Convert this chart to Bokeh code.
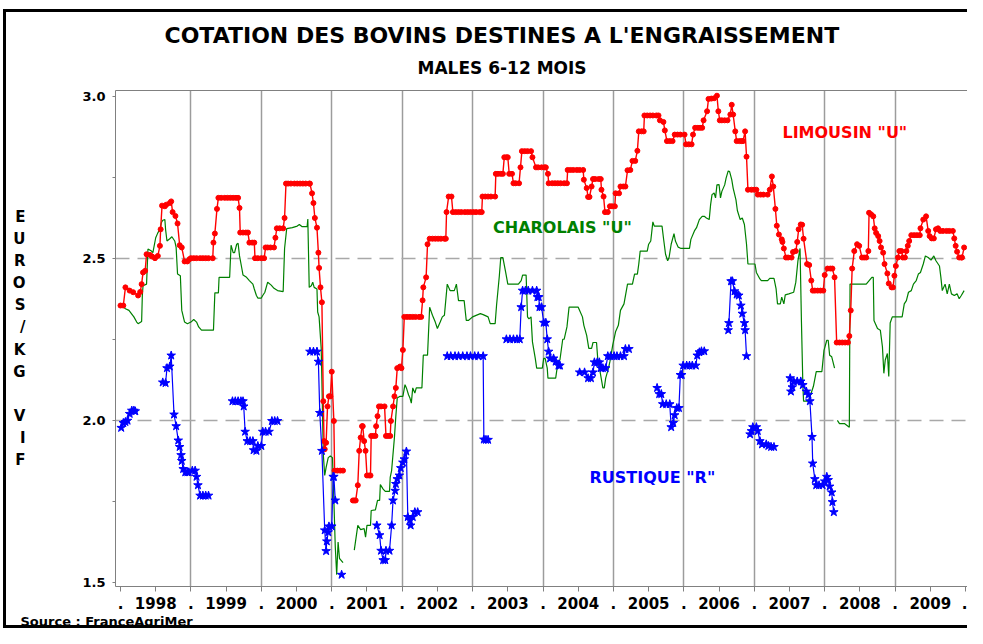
import numpy as np
from bokeh.plotting import figure
from bokeh.models import Range1d, FixedTicker, LinearAxis, Label, Title
from bokeh.embed import file_html
from bokeh.resources import INLINE

nan = float("nan")

TITLE = "COTATION DES BOVINS DESTINES A L'ENGRAISSEMENT"
SUBTITLE = "MALES 6-12 MOIS"
Y_LABEL = "E\nU\nR\nO\nS\n/\nK\nG\n \nV\nI\nF"
SOURCE = "Source :  FranceAgriMer"

X_TICKS = [1998.0, 1998.5, 1999.0, 1999.5, 2000.0, 2000.5, 2001.0, 2001.5, 2002.0, 2002.5,
           2003.0, 2003.5, 2004.0, 2004.5, 2005.0, 2005.5, 2006.0, 2006.5, 2007.0, 2007.5,
           2008.0, 2008.5, 2009.0, 2009.5, 2010.0]
X_TICK_LABELS = [".", "1998", ".", "1999", ".", "2000", ".", "2001", ".", "2002",
                 ".", "2003", ".", "2004", ".", "2005", ".", "2006", ".", "2007",
                 ".", "2008", ".", "2009", "."]
Y_TICKS = [1.5, 1.75, 2.0, 2.25, 2.5, 2.75, 3.0]
Y_TICK_LABELS = ["1.5", "", "2.0", "", "2.5", "", "3.0"]
YEAR_LINES = [1999, 2000, 2001, 2002, 2003, 2004, 2005, 2006, 2007, 2008, 2009]
REF_LINES = [2.0, 2.5]

SERIES_LABELS = ['LIMOUSIN  "U"', 'CHAROLAIS  "U"', 'RUSTIQUE  "R"']

LIMOUSIN = [
(1998.00,2.354),(1998.04,2.354),(1998.07,2.41),(1998.13,2.40),(1998.18,2.395),(1998.25,2.385),(1998.28,2.396),(1998.30,2.42),(1998.32,2.456),(1998.35,2.461),(1998.37,2.512),(1998.42,2.51),(1998.45,2.505),(1998.49,2.50),(1998.53,2.507),(1998.56,2.538),(1998.57,2.589),(1998.59,2.662),(1998.63,2.66),(1998.65,2.665),(1998.70,2.67),(1998.72,2.675),(1998.74,2.642),(1998.78,2.63),(1998.81,2.607),(1998.84,2.54),(1998.87,2.533),(1998.91,2.49),(1998.95,2.49),(1998.98,2.497),
(1999.00,2.50),(1999.04,2.50),(1999.08,2.50),(1999.13,2.50),(1999.17,2.50),(1999.21,2.50),(1999.25,2.50),(1999.31,2.50),(1999.32,2.548),(1999.34,2.576),(1999.37,2.652),(1999.39,2.686),(1999.43,2.686),(1999.48,2.686),(1999.52,2.686),(1999.56,2.686),(1999.60,2.686),(1999.64,2.686),(1999.67,2.686),(1999.69,2.655),(1999.70,2.579),(1999.74,2.579),(1999.78,2.579),(1999.81,2.579),(1999.83,2.548),(1999.87,2.548),(1999.90,2.548),(1999.91,2.50),(1999.95,2.50),
(2000.00,2.50),(2000.04,2.50),(2000.06,2.533),(2000.09,2.533),(2000.13,2.533),(2000.18,2.533),(2000.20,2.563),(2000.22,2.592),(2000.26,2.592),(2000.31,2.592),(2000.33,2.624),(2000.35,2.73),(2000.38,2.73),(2000.42,2.73),(2000.47,2.73),(2000.51,2.73),(2000.55,2.73),(2000.59,2.73),(2000.63,2.73),(2000.68,2.73),(2000.69,2.73),(2000.72,2.70),(2000.74,2.67),(2000.76,2.624),(2000.79,2.594),(2000.81,2.517),(2000.82,2.47),(2000.84,2.41),(2000.86,2.364),(2000.88,2.059),(2000.89,1.936),(2000.90,1.911),(2000.92,1.931),(2000.94,2.043),(2000.96,2.074),(2000.98,2.074),
(2001.00,2.15),(2001.03,1.998),(2001.04,1.845),(2001.08,1.845),(2001.12,1.845),(2001.16,1.845),(nan,nan),
(2001.30,1.753),(2001.32,1.753),(2001.34,1.753),(2001.37,1.80),(2001.39,1.906),(2001.41,1.947),(2001.43,1.982),(2001.44,1.982),(2001.46,1.936),(2001.48,1.906),(2001.50,1.83),(2001.53,1.83),(2001.55,1.83),(2001.56,1.952),(2001.59,1.952),(2001.62,1.952),(2001.63,1.982),(2001.65,2.013),(2001.67,2.043),(2001.70,2.043),(2001.75,2.043),(2001.77,1.952),(2001.80,1.952),(2001.83,1.952),(2001.84,1.998),(2001.87,2.043),(2001.89,2.074),(2001.91,2.10),(2001.93,2.161),(2001.97,2.166),(2001.99,2.161),
(2002.01,2.217),(2002.03,2.319),(2002.07,2.319),(2002.11,2.319),(2002.15,2.319),(2002.19,2.319),(2002.24,2.319),(2002.27,2.319),(2002.29,2.37),(2002.30,2.41),(2002.34,2.441),(2002.36,2.543),(2002.39,2.56),(2002.43,2.56),(2002.47,2.56),(2002.51,2.56),(2002.55,2.56),(2002.60,2.56),(2002.62,2.56),(2002.63,2.642),(2002.66,2.69),(2002.70,2.69),(2002.72,2.642),(2002.76,2.642),(2002.80,2.642),(2002.84,2.642),(2002.89,2.642),(2002.93,2.642),(2002.97,2.642),
(2003.01,2.642),(2003.05,2.642),(2003.10,2.642),(2003.13,2.642),(2003.14,2.69),(2003.18,2.69),(2003.22,2.69),(2003.26,2.69),(2003.32,2.69),(2003.33,2.76),(2003.36,2.76),(2003.40,2.76),(2003.43,2.76),(2003.45,2.811),(2003.48,2.811),(2003.50,2.811),(2003.52,2.76),(2003.56,2.76),(2003.58,2.731),(2003.61,2.731),(2003.66,2.731),(2003.68,2.78),(2003.70,2.83),(2003.74,2.83),(2003.78,2.83),(2003.83,2.83),(2003.85,2.811),(2003.90,2.78),(2003.93,2.78),(2003.98,2.78),
(2004.02,2.78),(2004.04,2.78),(2004.07,2.76),(2004.08,2.731),(2004.13,2.731),(2004.17,2.731),(2004.21,2.731),(2004.25,2.731),(2004.30,2.731),(2004.34,2.731),(2004.35,2.772),(2004.39,2.772),(2004.43,2.772),(2004.48,2.772),(2004.52,2.772),(2004.57,2.772),(2004.58,2.742),(2004.62,2.716),(2004.64,2.689),(2004.66,2.689),(2004.69,2.721),(2004.71,2.744),(2004.74,2.744),(2004.79,2.744),(2004.82,2.744),(2004.83,2.711),(2004.86,2.69),(2004.88,2.642),(2004.92,2.642),(2004.95,2.66),(2004.98,2.66),
(2005.02,2.66),(2005.03,2.70),(2005.08,2.70),(2005.10,2.721),(2005.14,2.721),(2005.17,2.721),(2005.20,2.771),(2005.24,2.772),(2005.27,2.80),(2005.31,2.80),(2005.34,2.831),(2005.36,2.891),(2005.40,2.891),(2005.43,2.891),(2005.44,2.94),(2005.48,2.94),(2005.52,2.94),(2005.56,2.94),(2005.61,2.94),(2005.64,2.94),(2005.66,2.925),(2005.71,2.92),(2005.73,2.894),(2005.76,2.861),(2005.80,2.861),(2005.84,2.861),(2005.87,2.881),(2005.91,2.881),(2005.95,2.881),
(2006.01,2.881),(2006.03,2.851),(2006.07,2.851),(2006.11,2.851),(2006.13,2.881),(2006.16,2.902),(2006.20,2.902),(2006.23,2.902),(2006.26,2.902),(2006.28,2.925),(2006.33,2.953),(2006.35,2.991),(2006.39,2.992),(2006.43,2.993),(2006.47,3.001),(2006.49,2.953),(2006.51,2.925),(2006.54,2.925),(2006.58,2.925),(2006.62,2.925),(2006.66,2.943),(2006.68,2.973),(2006.70,2.943),(2006.73,2.891),(2006.75,2.861),(2006.79,2.861),(2006.82,2.861),(2006.84,2.861),(2006.87,2.891),(2006.89,2.813),(2006.91,2.711),(2006.96,2.711),
(2007.00,2.711),(2007.03,2.711),(2007.05,2.696),(2007.09,2.696),(2007.13,2.696),(2007.19,2.696),(2007.22,2.711),(2007.25,2.752),(2007.27,2.721),(2007.30,2.652),(2007.32,2.60),(2007.35,2.573),(2007.39,2.558),(2007.40,2.55),(2007.42,2.53),(2007.45,2.502),(2007.48,2.502),(2007.53,2.502),(2007.55,2.519),(2007.59,2.522),(2007.61,2.55),(2007.63,2.589),(2007.66,2.604),(2007.68,2.603),(2007.70,2.56),(2007.75,2.482),(2007.78,2.479),(2007.81,2.431),(2007.83,2.40),(2007.86,2.40),(2007.90,2.40),(2007.94,2.40),(2007.98,2.40),
(2008.00,2.448),(2008.04,2.468),(2008.08,2.468),(2008.11,2.468),(2008.14,2.441),(2008.17,2.24),(2008.21,2.24),(2008.25,2.24),(2008.29,2.24),(2008.33,2.24),(2008.35,2.26),(2008.37,2.339),(2008.39,2.468),(2008.42,2.522),(2008.46,2.543),(2008.49,2.538),(2008.53,2.502),(2008.56,2.502),(2008.59,2.502),(2008.62,2.522),(2008.63,2.64),(2008.66,2.635),(2008.69,2.629),(2008.71,2.592),(2008.73,2.578),(2008.76,2.568),(2008.78,2.553),(2008.80,2.533),(2008.83,2.517),(2008.85,2.482),(2008.89,2.453),(2008.91,2.422),(2008.95,2.41),(2008.97,2.41),(2008.99,2.446),
(2009.01,2.476),(2009.04,2.502),(2009.06,2.522),(2009.09,2.522),(2009.11,2.502),(2009.14,2.502),(2009.16,2.522),(2009.18,2.538),(2009.20,2.553),(2009.23,2.571),(2009.27,2.571),(2009.31,2.571),(2009.35,2.571),(2009.36,2.592),(2009.40,2.619),(2009.44,2.629),(2009.47,2.584),(2009.49,2.568),(2009.52,2.561),(2009.55,2.561),(2009.58,2.589),(2009.61,2.592),(2009.64,2.584),(2009.68,2.584),(2009.73,2.584),(2009.77,2.584),(2009.82,2.584),(2009.84,2.561),(2009.86,2.538),(2009.88,2.52),(2009.91,2.502),(2009.94,2.502),(2009.95,2.502),(2009.98,2.533),
]

CHAROLAIS = [
(1998.00,2.359),(1998.07,2.344),(1998.12,2.339),(1998.19,2.319),(1998.23,2.303),(1998.25,2.298),(1998.30,2.305),(1998.31,2.385),(1998.32,2.415),(1998.37,2.42),(1998.39,2.528),(1998.44,2.522),(1998.46,2.517),(1998.50,2.563),(1998.53,2.578),(1998.56,2.589),(1998.58,2.609),(1998.60,2.617),(1998.63,2.619),(1998.64,2.589),(1998.66,2.553),(1998.70,2.56),(1998.73,2.566),(1998.77,2.553),(1998.79,2.533),(1998.81,2.451),(1998.85,2.446),(1998.87,2.339),(1998.91,2.303),(1998.95,2.298),
(1999.00,2.303),(1999.04,2.311),(1999.08,2.303),(1999.11,2.288),(1999.15,2.278),(1999.32,2.278),(1999.34,2.393),(1999.39,2.393),(1999.40,2.441),(1999.55,2.441),(1999.57,2.54),(1999.60,2.517),(1999.62,2.517),(1999.65,2.543),(1999.67,2.546),(1999.69,2.507),(1999.72,2.472),(1999.74,2.448),(1999.79,2.441),(1999.83,2.431),(1999.88,2.42),(1999.90,2.405),(1999.93,2.385),(1999.95,2.377),
(2000.00,2.377),(2000.02,2.385),(2000.05,2.395),(2000.09,2.426),(2000.14,2.417),(2000.18,2.407),(2000.23,2.40),(2000.31,2.397),(2000.33,2.53),(2000.36,2.591),(2000.44,2.594),(2000.51,2.599),(2000.54,2.604),(2000.58,2.597),(2000.65,2.597),(2000.66,2.621),(2000.68,2.41),(2000.71,2.415),(2000.73,2.426),(2000.75,2.41),(2000.79,2.405),(2000.80,2.334),(2000.82,2.319),(2000.85,2.222),(2000.86,2.12),(2000.88,1.895),(2000.90,1.83),(2000.92,1.855),(2000.95,1.885),(2000.98,1.89),
(2001.01,1.885),(2001.03,1.753),(2001.05,1.61),(2001.07,1.524),(2001.09,1.625),(2001.11,1.574),(2001.13,1.569),(2001.16,1.561),(nan,nan),
(2001.32,1.60),(2001.37,1.676),(2001.41,1.663),(2001.46,1.666),(2001.48,1.64),(2001.50,1.676),(2001.55,1.676),(2001.56,1.722),(2001.62,1.724),(2001.65,1.753),(2001.68,1.753),(2001.69,1.802),(2001.73,1.788),(2001.76,1.781),(2001.82,1.781),(2001.83,1.824),(2001.85,1.845),(2001.89,1.947),(2001.91,2.013),(2001.93,2.069),(2001.97,2.074),
(2002.01,2.074),(2002.04,2.11),(2002.06,2.10),(2002.09,2.079),(2002.11,2.069),(2002.13,2.053),(2002.15,2.10),(2002.18,2.084),(2002.20,2.10),(2002.28,2.10),(2002.30,2.201),(2002.36,2.201),(2002.39,2.349),(2002.43,2.324),(2002.47,2.303),(2002.50,2.283),(2002.54,2.303),(2002.57,2.319),(2002.60,2.324),(2002.64,2.42),(2002.68,2.40),(2002.74,2.40),(2002.77,2.42),(2002.80,2.369),(2002.88,2.369),(2002.91,2.308),(2002.94,2.308),
(2003.00,2.319),(2003.11,2.329),(2003.15,2.326),(2003.22,2.319),(2003.25,2.298),(2003.32,2.298),(2003.34,2.354),(2003.38,2.446),(2003.40,2.502),(2003.43,2.502),(2003.47,2.456),(2003.50,2.42),(2003.65,2.42),(2003.69,2.431),(2003.71,2.448),(2003.76,2.448),(2003.78,2.319),(2003.80,2.313),(2003.83,2.319),(2003.85,2.242),(2003.89,2.191),(2003.91,2.161),(2003.99,2.161),
(2004.01,2.191),(2004.03,2.191),(2004.06,2.161),(2004.07,2.13),(2004.18,2.13),(2004.21,2.176),(2004.24,2.186),(2004.28,2.25),(2004.30,2.25),(2004.34,2.288),(2004.37,2.349),(2004.50,2.349),(2004.52,2.339),(2004.56,2.319),(2004.58,2.293),(2004.62,2.262),(2004.65,2.222),(2004.69,2.222),(2004.71,2.24),(2004.76,2.24),(2004.78,2.181),(2004.81,2.15),(2004.85,2.10),(2004.87,2.10),(2004.89,2.13),(2004.93,2.161),(2004.95,2.181),(2004.99,2.232),
(2005.03,2.273),(2005.07,2.293),(2005.10,2.339),(2005.15,2.359),(2005.20,2.42),(2005.27,2.42),(2005.30,2.451),(2005.34,2.451),(2005.36,2.482),(2005.38,2.522),(2005.48,2.522),(2005.50,2.543),(2005.53,2.553),(2005.56,2.612),(2005.58,2.599),(2005.69,2.599),(2005.71,2.563),(2005.74,2.512),(2005.77,2.492),(2005.79,2.502),(2005.82,2.543),(2005.86,2.576),(2005.88,2.553),(2005.92,2.534),(2005.96,2.53),
(2006.08,2.53),(2006.10,2.558),(2006.15,2.584),(2006.18,2.594),(2006.22,2.619),(2006.26,2.629),(2006.29,2.629),(2006.32,2.624),(2006.36,2.619),(2006.38,2.665),(2006.40,2.696),(2006.43,2.701),(2006.45,2.686),(2006.47,2.726),(2006.50,2.727),(2006.52,2.686),(2006.54,2.706),(2006.58,2.726),(2006.60,2.747),(2006.63,2.769),(2006.65,2.767),(2006.68,2.742),(2006.70,2.716),(2006.74,2.68),(2006.76,2.647),(2006.80,2.619),(2006.83,2.624),(2006.86,2.604),(2006.89,2.543),(2006.91,2.482),
(2007.01,2.482),(2007.03,2.456),(2007.08,2.436),(2007.10,2.431),(2007.19,2.431),(2007.22,2.438),(2007.28,2.438),(2007.31,2.405),(2007.33,2.359),(2007.37,2.359),(2007.39,2.38),(2007.42,2.359),(2007.44,2.387),(2007.49,2.39),(2007.56,2.395),(2007.59,2.426),(2007.62,2.492),(2007.65,2.53),(2007.67,2.303),(2007.69,2.109),(2007.70,2.059),(2007.77,2.059),(2007.84,2.105),(2007.88,2.15),(2007.96,2.15),(2007.99,2.216),
(2008.03,2.247),(2008.05,2.247),(2008.07,2.201),(2008.10,2.196),(2008.14,2.161),(nan,nan),
(2008.18,2.0),(2008.21,1.99),(2008.28,1.99),(2008.35,1.979),(2008.36,2.42),(2008.45,2.42),(2008.59,2.42),(2008.67,2.441),(2008.69,2.441),(2008.70,2.308),(2008.75,2.283),(2008.79,2.278),(2008.82,2.227),(2008.84,2.145),(2008.86,2.186),(2008.89,2.206),(2008.91,2.135),(2008.93,2.30),(2008.96,2.319),
(2009.10,2.319),(2009.13,2.359),(2009.16,2.369),(2009.19,2.395),(2009.23,2.40),(2009.26,2.42),(2009.30,2.431),(2009.33,2.451),(2009.36,2.456),(2009.40,2.482),(2009.43,2.507),(2009.47,2.502),(2009.51,2.494),(2009.55,2.507),(2009.58,2.492),(2009.63,2.476),(2009.65,2.441),(2009.67,2.40),(2009.71,2.42),(2009.74,2.39),(2009.77,2.42),(2009.80,2.39),(2009.84,2.385),(2009.88,2.39),(2009.91,2.375),(2009.94,2.385),(2009.98,2.40),
]

RUSTIQUE = [
(1998.01,1.977),(1998.04,1.992),(1998.07,1.995),(1998.10,1.999),(1998.13,2.02),(1998.16,2.03),(1998.19,2.03),(1998.21,2.028),(nan,nan),
(1998.60,2.117),(1998.64,2.115),(1998.66,2.161),(1998.70,2.166),(1998.72,2.20),(1998.76,2.018),(1998.79,1.982),(1998.82,1.938),(1998.84,1.918),(1998.86,1.893),(1998.87,1.875),(1998.89,1.85),(1998.92,1.84),(1998.95,1.84),(1998.97,1.84),(1999.02,1.845),(1999.06,1.845),(1999.08,1.826),(1999.10,1.80),(1999.13,1.768),(1999.17,1.768),(1999.21,1.768),(1999.25,1.768),(nan,nan),
(1999.59,2.059),(1999.63,2.059),(1999.67,2.059),(1999.71,2.059),(1999.74,2.059),(1999.75,2.043),(1999.77,1.965),(1999.80,1.936),(1999.84,1.936),(1999.88,1.936),(1999.89,1.908),(1999.93,1.906),(1999.95,1.921),(2000.00,1.921),(2000.02,1.965),(2000.06,1.965),(2000.11,1.965),(2000.15,1.998),(2000.19,1.998),(2000.23,1.998),(nan,nan),
(2000.69,2.212),(2000.74,2.212),(2000.79,2.212),(2000.81,2.181),(2000.83,2.023),(2000.86,1.906),(2000.90,1.661),(2000.92,1.597),(2000.93,1.627),(2000.95,1.655),(2000.96,1.673),(2001.00,1.673),(2001.02,1.826),(2001.03,1.826),(2001.05,1.753),(nan,nan),
(2001.14,1.524),(nan,nan),
(2001.64,1.676),(2001.68,1.646),(2001.70,1.598),(2001.73,1.569),(2001.76,1.569),(2001.77,1.598),(2001.82,1.598),(2001.85,1.676),(2001.87,1.753),(2001.90,1.783),(2001.91,1.804),(2001.93,1.819),(2001.96,1.83),(2001.98,1.853),(2002.01,1.87),(2002.03,1.88),(2002.06,1.904),(2002.08,1.702),(2002.11,1.692),(2002.12,1.676),(2002.15,1.702),(2002.18,1.717),(2002.22,1.717),(nan,nan),
(2002.64,2.198),(2002.69,2.198),(2002.75,2.198),(2002.80,2.198),(2002.86,2.198),(2002.92,2.198),(2002.97,2.198),(2003.03,2.198),(2003.08,2.198),(2003.15,2.198),(2003.16,1.941),(2003.19,1.94),(2003.22,1.94),(nan,nan),
(2003.48,2.25),(2003.53,2.25),(2003.58,2.25),(2003.63,2.25),(2003.67,2.25),(2003.69,2.349),(2003.71,2.40),(2003.75,2.40),(2003.79,2.40),(2003.85,2.40),(2003.91,2.40),(2003.92,2.38),(2003.94,2.38),(2003.95,2.349),(2003.98,2.349),(2004.01,2.301),(2004.04,2.301),(2004.06,2.25),(2004.08,2.212),(2004.10,2.191),(2004.15,2.191),(2004.18,2.181),(2004.22,2.169),(2004.24,2.169),(nan,nan),
(2004.52,2.148),(2004.59,2.148),(2004.64,2.13),(2004.68,2.13),(2004.71,2.148),(2004.73,2.179),(2004.77,2.179),(2004.80,2.179),(2004.82,2.161),(2004.85,2.161),(2004.89,2.161),(2004.92,2.198),(2004.96,2.198),(2005.01,2.198),(2005.05,2.198),(2005.10,2.198),(2005.15,2.198),(2005.17,2.22),(2005.22,2.22),(nan,nan),
(2005.62,2.10),(2005.65,2.081),(2005.68,2.081),(2005.70,2.05),(2005.75,2.05),(2005.80,2.05),(2005.82,1.979),(2005.85,1.992),(2005.87,2.016),(2005.90,2.038),(2005.93,2.038),(2005.95,2.14),(2005.97,2.14),(2005.99,2.169),(2006.04,2.169),(2006.08,2.169),(2006.12,2.169),(2006.17,2.169),(2006.19,2.20),(2006.22,2.21),(2006.25,2.213),(2006.29,2.213),(nan,nan),
(2006.63,2.278),(2006.64,2.30),(2006.67,2.429),(2006.69,2.429),(2006.72,2.398),(2006.75,2.388),(2006.78,2.385),(2006.81,2.354),(2006.83,2.329),(2006.86,2.30),(2006.87,2.278),(2006.89,2.198),(nan,nan),
(2006.94,1.957),(2006.96,1.967),(2006.98,1.979),(2007.03,1.979),(2007.05,1.967),(2007.08,1.936),(2007.11,1.926),(2007.17,1.926),(2007.20,1.921),(2007.24,1.918),(2007.28,1.918),(nan,nan),
(2007.51,2.13),(2007.52,2.089),(2007.54,2.102),(2007.56,2.12),(2007.61,2.12),(2007.66,2.12),(2007.69,2.109),(2007.74,2.089),(2007.77,2.079),(2007.79,2.059),(2007.82,1.949),(2007.83,1.867),(2007.86,1.819),(2007.88,1.80),(2007.92,1.80),(2007.97,1.80),(2008.00,1.812),(2008.03,1.826),(2008.05,1.816),(2008.07,1.796),(2008.10,1.778),(2008.11,1.748),(2008.13,1.717),
]

RED = "#ff0000"
GREEN = "#008000"
BLUE = "#0000ff"
FONT = "DejaVu Sans"


def xy(pairs):
    a = np.array(pairs, dtype=float)
    return a[:, 0], a[:, 1]


p = figure(width=967, height=628, output_backend="svg", toolbar_location=None, title=None,
           x_range=Range1d(1997.929, 2010.028), y_range=Range1d(1.4877, 3.017),
           min_border_left=115, min_border_right=0, min_border_top=90, min_border_bottom=42)
p.outline_line_color = None
p.border_fill_color = None
p.background_fill_color = "white"
p.styles = {"box-shadow": ("inset 3px 0 0 0 #ffffff, inset 0 9px 0 0 #ffffff, "
                           "inset 6px 0 0 0 #000000, inset 0 12px 0 0 #000000, "
                           "inset 0 -3px 0 0 #000000")}

# axes
xa = p.xaxis[0]
xa.ticker = FixedTicker(ticks=X_TICKS)
xa.major_label_overrides = dict(zip(X_TICKS, X_TICK_LABELS))
ya = p.yaxis[0]
ya.ticker = FixedTicker(ticks=Y_TICKS)
ya.major_label_overrides = dict(zip(Y_TICKS, Y_TICK_LABELS))
for ax, tick_out, fs, st in ((xa, 5, "15px", 5), (ya, 3, "13px", 7)):
    ax.axis_line_color = "#808080"
    ax.major_tick_line_color = "#808080"
    ax.major_tick_out = tick_out
    ax.major_tick_in = 0
    ax.minor_tick_line_color = None
    ax.major_label_text_font = FONT
    ax.major_label_text_font_style = "bold"
    ax.major_label_text_font_size = fs
    ax.major_label_text_color = "black"
    ax.major_label_standoff = st

ya.axis_label = Y_LABEL
ya.axis_label_text_font = FONT
ya.axis_label_text_font_style = "bold"
ya.axis_label_text_font_size = "15px"
ya.axis_label_text_color = "black"
ya.axis_label_text_line_height = 1.23
ya.axis_label_standoff = 54
if "axis_label_orientation" in ya.properties():
    ya.axis_label_orientation = "horizontal"

top = LinearAxis(ticker=FixedTicker(ticks=[]), axis_line_color="#808080",
                 major_tick_line_color=None, minor_tick_line_color=None,
                 major_tick_out=0, major_label_standoff=0,
                 major_label_text_font_size="0px")
p.add_layout(top, "above")

# titles (first added = closest to the plot frame)
p.add_layout(Title(text=SUBTITLE, align="left", offset=302, standoff=25,
                   text_font=FONT, text_font_style="bold", text_font_size="17px",
                   text_color="black"), "above")
p.add_layout(Title(text=TITLE, align="left", offset=49, standoff=-8,
                   text_font=FONT, text_font_style="bold", text_font_size="22px",
                   text_color="black"), "above")
p.add_layout(Title(text=SOURCE, align="left", offset=-95, standoff=0,
                   text_font=FONT, text_font_style="bold", text_font_size="13px",
                   text_color="black"), "below")

# grids
p.xgrid.ticker = FixedTicker(ticks=YEAR_LINES)
p.xgrid.grid_line_color = "#9c9c9c"
p.xgrid.grid_line_width = 1.5
p.ygrid.ticker = FixedTicker(ticks=REF_LINES)
p.ygrid.grid_line_color = "#a8a8a8"
p.ygrid.grid_line_width = 1.5
p.ygrid.grid_line_dash = "14 8"

# series
gx, gy = xy(CHAROLAIS)
p.line(gx, gy, line_color=GREEN, line_width=1.2)

lx, ly = xy(LIMOUSIN)
p.line(lx, ly, line_color=RED, line_width=1.4)
p.scatter(lx, ly, marker="circle", size=5, fill_color=RED, line_color=RED)

rx, ry = xy(RUSTIQUE)
p.line(rx, ry, line_color=BLUE, line_width=1.2)
p.scatter(rx, ry, marker="star", size=9, fill_color=BLUE, line_color=BLUE)


def label(x, y, text, color):
    p.add_layout(Label(x=x, y=y, text=text, text_font=FONT, text_font_style="bold",
                       text_font_size="16px", text_color=color, text_align="left",
                       text_baseline="middle"))


label(2007.40, 2.888, SERIES_LABELS[0], RED)
label(2003.29, 2.595, SERIES_LABELS[1], GREEN)
label(2004.66, 1.824, SERIES_LABELS[2], BLUE)

open("out.html", "w").write(file_html(p, INLINE))
